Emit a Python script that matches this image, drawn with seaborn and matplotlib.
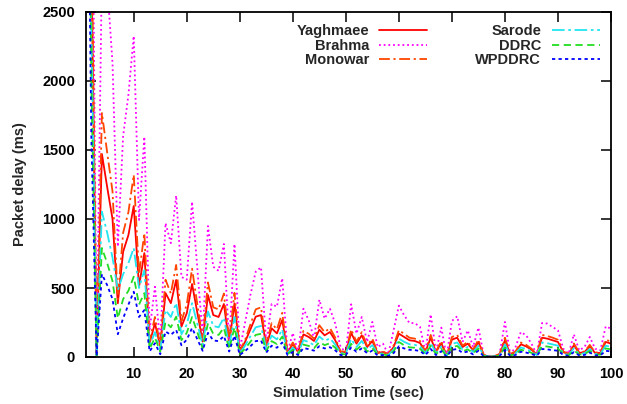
import numpy as np
import pandas as pd
import seaborn as sns
import matplotlib
matplotlib.use("Agg")
import matplotlib.pyplot as plt

# Simulation time (seconds)
time_sec = list(range(1, 101))

yaghmaee = [9000, 2900, 15, 1471, 1230, 1000, 389, 763, 884, 1094,
            509, 753, 101, 245, 75, 463, 390, 558, 220, 317,
            529, 320, 111, 449, 304, 290, 384, 99, 389, 38,
            110, 200, 292, 304, 80, 208, 171, 268, 36, 92,
            36, 164, 145, 116, 198, 157, 181, 121, 36, 36,
            174, 97, 157, 72, 116, 29, 36, 19, 72, 169,
            145, 121, 116, 101, 36, 140, 36, 101, 5, 126,
            140, 72, 97, 48, 109, 12, 5, 5, 19, 121,
            19, 36, 92, 77, 53, 19, 140, 133, 121, 109,
            36, 19, 85, 29, 36, 77, 29, 29, 109, 97]

brahma = [15000, 4500, 30, 2800, 2700, 2130, 800, 1600, 1900, 2326,
          993, 1596, 196, 509, 100, 970, 825, 1170, 580, 560,
          1125, 640, 147, 949, 654, 625, 819, 99, 819, 51,
          250, 450, 618, 650, 99, 384, 364, 570, 36, 174,
          36, 350, 266, 133, 415, 278, 350, 242, 72, 36,
          382, 169, 290, 109, 254, 72, 97, 19, 193, 372,
          302, 246, 246, 217, 36, 309, 36, 213, 5, 261,
          295, 109, 193, 72, 213, 12, 5, 5, 24, 254,
          19, 72, 181, 157, 97, 19, 246, 242, 217, 193,
          60, 24, 164, 48, 72, 145, 60, 48, 222, 205]

monowar = [11000, 3300, 18, 1768, 1480, 1200, 420, 900, 1050, 1320,
           600, 897, 120, 290, 85, 560, 460, 667, 260, 380,
           640, 380, 130, 540, 360, 345, 460, 115, 465, 42,
           125, 235, 345, 360, 90, 245, 200, 320, 40, 105,
           40, 190, 168, 133, 230, 180, 210, 140, 40, 40,
           200, 110, 180, 82, 133, 33, 40, 21, 82, 195,
           167, 140, 133, 116, 40, 160, 40, 116, 6, 145,
           160, 82, 110, 55, 125, 14, 6, 6, 22, 140,
           22, 40, 105, 88, 60, 22, 160, 152, 140, 125,
           40, 22, 98, 33, 40, 88, 33, 33, 125, 112]

sarode = [7000, 2400, 12, 1053, 900, 720, 485, 600, 680, 790,
          500, 630, 80, 180, 55, 340, 290, 391, 165, 235,
          390, 240, 85, 330, 225, 215, 285, 75, 290, 28,
          82, 150, 215, 225, 60, 155, 128, 200, 27, 68,
          27, 122, 108, 86, 148, 117, 135, 90, 27, 27,
          130, 72, 117, 54, 86, 22, 27, 14, 54, 133,
          110, 92, 88, 77, 27, 105, 27, 76, 4, 95,
          105, 54, 73, 36, 82, 9, 4, 4, 14, 91,
          14, 27, 69, 58, 40, 14, 105, 100, 91, 82,
          27, 14, 64, 22, 27, 58, 22, 22, 82, 73]

ddrc = [6000, 2000, 10, 790, 680, 550, 280, 420, 480, 582,
        380, 463, 60, 140, 40, 255, 215, 292, 122, 175,
        290, 178, 62, 245, 168, 160, 212, 55, 215, 21,
        60, 110, 160, 168, 44, 115, 94, 148, 20, 51,
        20, 90, 80, 64, 109, 86, 100, 67, 20, 20,
        96, 53, 86, 40, 64, 16, 20, 10, 40, 109,
        85, 70, 67, 59, 20, 80, 20, 58, 3, 72,
        80, 41, 55, 27, 62, 7, 3, 3, 11, 69,
        11, 21, 52, 44, 30, 11, 80, 76, 69, 62,
        21, 11, 48, 17, 21, 44, 17, 17, 62, 55]

wpddrc = [5000, 1600, 8, 600, 520, 420, 165, 280, 380, 473,
          290, 340, 40, 100, 20, 185, 160, 196, 85, 125,
          210, 128, 45, 175, 120, 115, 152, 40, 155, 15,
          43, 78, 115, 120, 32, 82, 67, 105, 14, 36,
          14, 65, 57, 46, 78, 62, 71, 48, 14, 14,
          69, 38, 62, 28, 46, 11, 14, 7, 28, 77,
          62, 52, 50, 43, 14, 58, 14, 42, 2, 52,
          58, 30, 40, 19, 45, 5, 2, 2, 8, 50,
          8, 15, 38, 32, 22, 8, 58, 55, 50, 45,
          15, 8, 35, 12, 15, 32, 12, 12, 45, 40]

series_names = ["Yaghmaee", "Brahma", "Monowar", "Sarode", "DDRC", "WPDDRC"]
series_values = [yaghmaee, brahma, monowar, sarode, ddrc, wpddrc]

colors = {"Yaghmaee": "#ff0000", "Brahma": "#ff00ff", "Monowar": "#ff4500",
          "Sarode": "#22e5f0", "DDRC": "#22dd22", "WPDDRC": "#0000ff"}
dash_styles = {"Yaghmaee": "", "Brahma": (1, 1.6), "Monowar": (6, 2, 1.2, 2),
               "Sarode": (7, 2, 1.5, 2), "DDRC": (4, 2.5), "WPDDRC": (1.8, 1.8)}

frames = [pd.DataFrame({"time": time_sec, "delay": vals, "scheme": name})
          for name, vals in zip(series_names, series_values)]
df = pd.concat(frames, ignore_index=True)

sns.set_theme(style="ticks")
plt.rcParams["font.family"] = ["Liberation Sans", "DejaVu Sans"]
plt.rcParams["font.weight"] = "bold"

fig = plt.figure(figsize=(6.27, 4.04), dpi=100)
ax = fig.add_axes([86 / 627, 1 - 357 / 404, (611 - 86) / 627, (357 - 12) / 404])

sns.lineplot(data=df, x="time", y="delay", hue="scheme", style="scheme",
             hue_order=series_names, style_order=series_names,
             palette=colors, dashes=dash_styles, linewidth=1.3,
             legend=True, ax=ax)

ax.set_xlim(1, 100)
ax.set_ylim(0, 2500)
ax.set_xticks(range(10, 101, 10))
ax.set_yticks(range(0, 2501, 500))
ax.tick_params(direction="in", top=True, right=True, length=7, width=1.1,
               labelsize=10.5, colors="black")
ax.tick_params(axis="y", pad=8)
ax.tick_params(axis="x", pad=7)
for lbl in ax.get_xticklabels() + ax.get_yticklabels():
    lbl.set_fontweight("bold")
for sp in ax.spines.values():
    sp.set_linewidth(1.3)
    sp.set_color("black")

ax.set_xlabel("Simulation Time (sec)", fontsize=10.5, fontweight="bold", labelpad=4)
ax.set_ylabel("Packet delay (ms)", fontsize=10.5, fontweight="bold", labelpad=11)

handles, labels = ax.get_legend_handles_labels()
ax.legend(handles, labels, ncol=2, markerfirst=False, frameon=False,
          loc="upper right", bbox_to_anchor=(0.995, 0.99),
          prop={"size": 10.5, "weight": "bold"}, handlelength=3.3,
          handletextpad=0.7, columnspacing=3.3, labelspacing=0.03,
          borderaxespad=0.2)

fig.savefig("out.png", dpi=100)
